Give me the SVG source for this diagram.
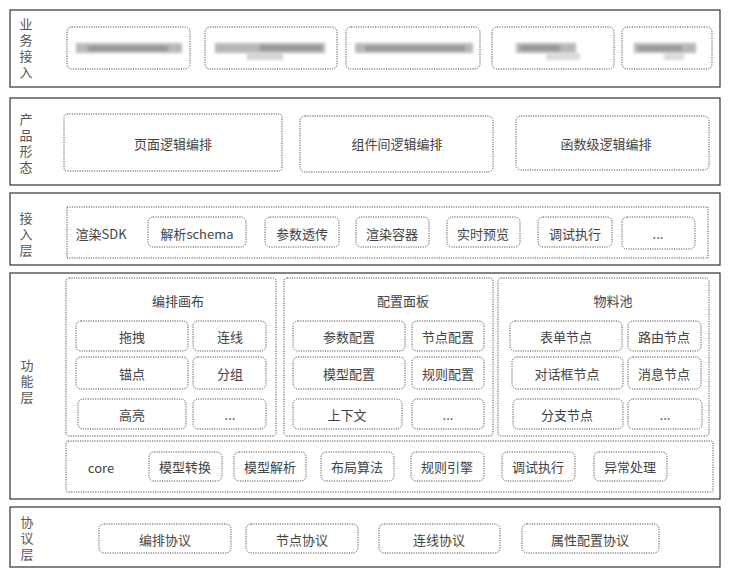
<svg xmlns="http://www.w3.org/2000/svg" width="729" height="577" viewBox="0 0 729 577">
<style>
text{font-family:"Noto Sans CJK SC","Liberation Sans",sans-serif;font-size:13px;fill:#444;text-anchor:middle;dominant-baseline:central}
.lbl{fill:#555;writing-mode:tb;text-anchor:start;letter-spacing:3px}
.layer{fill:#fff;stroke:#333;stroke-width:1.2}
.grp{fill:none;stroke:#555;stroke-width:1;stroke-dasharray:1.2 1.2}
.box{fill:none;stroke:#555;stroke-width:1;stroke-dasharray:1.2 1.2}
.blur{fill:#b8b8b8;filter:url(#bl)}
.blur2{fill:#7a7a7a;filter:url(#bl)}
</style>
<defs>
<filter id="bl" x="-20%" y="-50%" width="140%" height="200%"><feGaussianBlur stdDeviation="1.5"/></filter>
</defs>
<rect width="729" height="577" fill="#fff"/>

<g id="layer-business">
<rect class="layer" x="10" y="10" width="710" height="77"/>
<text class="lbl" x="26" y="18">业务接入</text>
<g id="biz1"><rect class="box" x="67" y="27" width="123" height="42" rx="5"/><rect class="blur" x="76" y="43" width="106" height="10"/><rect class="blur2" x="88" y="46" width="80" height="5" opacity="0.55"/></g>
<g id="biz2"><rect class="box" x="205" y="27" width="132" height="42" rx="5"/><rect class="blur" x="215" y="43" width="110" height="10"/><rect class="blur" x="247" y="53" width="36" height="7" opacity="0.6"/><rect class="blur2" x="260" y="45" width="62" height="6" opacity="0.5"/></g>
<g id="biz3"><rect class="box" x="346" y="27" width="134" height="42" rx="5"/><rect class="blur" x="355" y="43" width="118" height="10"/><rect class="blur2" x="365" y="46" width="100" height="5" opacity="0.5"/></g>
<g id="biz4"><rect class="box" x="492" y="27" width="122" height="42" rx="5"/><rect class="blur" x="516" y="43" width="60" height="10"/><rect class="blur" x="546" y="53" width="34" height="7" opacity="0.5"/><rect class="blur2" x="520" y="45" width="40" height="6" opacity="0.5"/></g>
<g id="biz5"><rect class="box" x="622" y="27" width="90" height="42" rx="5"/><rect class="blur" x="634" y="43" width="62" height="10"/><rect class="blur" x="664" y="53" width="20" height="7" opacity="0.5"/><rect class="blur2" x="638" y="46" width="44" height="5" opacity="0.5"/></g>
</g>

<g id="layer-product">
<rect class="layer" x="10" y="98" width="710" height="87"/>
<text class="lbl" x="26" y="113">产品形态</text>
<g id="p1"><rect class="box" x="64" y="114" width="218" height="57" rx="3"/><text x="173" y="143">页面逻辑编排</text></g>
<g id="p2"><rect class="box" x="300" y="116" width="193" height="56" rx="5"/><text x="397" y="143">组件间逻辑编排</text></g>
<g id="p3"><rect class="box" x="516" y="116" width="193" height="54" rx="5"/><text x="606" y="143">函数级逻辑编排</text></g>
</g>

<g id="layer-access">
<rect class="layer" x="10" y="193" width="710" height="72"/>
<text class="lbl" x="26" y="212">接入层</text>
<rect class="grp" x="67" y="207" width="641" height="51"/>
<text x="101" y="233">渲染SDK</text>
<g id="a1"><rect class="box" x="148" y="217" width="98" height="30" rx="5"/><text x="197" y="233">解析schema</text></g>
<g id="a2"><rect class="box" x="265" y="217" width="74" height="30" rx="5"/><text x="302" y="233">参数透传</text></g>
<g id="a3"><rect class="box" x="356" y="217" width="73" height="30" rx="5"/><text x="392" y="233">渲染容器</text></g>
<g id="a4"><rect class="box" x="447" y="217" width="73" height="30" rx="5"/><text x="483" y="233">实时预览</text></g>
<g id="a5"><rect class="box" x="538" y="217" width="74" height="30" rx="5"/><text x="575" y="233">调试执行</text></g>
<g id="a6"><rect class="box" x="622" y="217" width="73" height="32" rx="5"/><text x="658" y="233">...</text></g>
</g>

<g id="layer-func">
<rect class="layer" x="10" y="273" width="710" height="226"/>
<text class="lbl" x="27" y="359">功能层</text>
<g id="canvas">
<rect class="grp" x="66" y="278" width="210" height="158" rx="3"/>
<text x="178" y="300">编排画布</text>
<rect class="box" x="76" y="321" width="112" height="30" rx="5"/><text x="132" y="336">拖拽</text>
<rect class="box" x="193" y="321" width="73" height="30" rx="5"/><text x="230" y="336">连线</text>
<rect class="box" x="76" y="357" width="112" height="32" rx="5"/><text x="132" y="373">锚点</text>
<rect class="box" x="193" y="357" width="73" height="32" rx="5"/><text x="230" y="373">分组</text>
<rect class="box" x="78" y="399" width="108" height="30" rx="5"/><text x="132" y="414">高亮</text>
<rect class="box" x="193" y="399" width="73" height="30" rx="5"/><text x="230" y="414">...</text>
</g>
<g id="config">
<rect class="grp" x="284" y="278" width="209" height="158" rx="3"/>
<text x="403" y="300">配置面板</text>
<rect class="box" x="293" y="321" width="112" height="30" rx="5"/><text x="349" y="336">参数配置</text>
<rect class="box" x="412" y="321" width="72" height="30" rx="5"/><text x="448" y="336">节点配置</text>
<rect class="box" x="293" y="357" width="112" height="32" rx="5"/><text x="349" y="373">模型配置</text>
<rect class="box" x="412" y="357" width="72" height="32" rx="5"/><text x="448" y="373">规则配置</text>
<rect class="box" x="293" y="399" width="109" height="30" rx="5"/><text x="347" y="414">上下文</text>
<rect class="box" x="412" y="399" width="72" height="30" rx="5"/><text x="448" y="414">...</text>
</g>
<g id="material">
<rect class="grp" x="498" y="278" width="211" height="158" rx="3"/>
<text x="613" y="300">物料池</text>
<rect class="box" x="510" y="321" width="112" height="30" rx="5"/><text x="566" y="336">表单节点</text>
<rect class="box" x="628" y="321" width="73" height="30" rx="5"/><text x="664" y="336">路由节点</text>
<rect class="box" x="512" y="357" width="111" height="32" rx="5"/><text x="567" y="373">对话框节点</text>
<rect class="box" x="628" y="357" width="73" height="32" rx="5"/><text x="664" y="373">消息节点</text>
<rect class="box" x="513" y="399" width="110" height="30" rx="5"/><text x="567" y="414">分支节点</text>
<rect class="box" x="628" y="399" width="74" height="30" rx="5"/><text x="665" y="414">...</text>
</g>
<g id="core">
<rect class="grp" x="66" y="441" width="647" height="51" rx="2"/>
<text x="101" y="467">core</text>
<rect class="box" x="149" y="452" width="73" height="29" rx="5"/><text x="185" y="466">模型转换</text>
<rect class="box" x="234" y="452" width="72" height="29" rx="5"/><text x="270" y="466">模型解析</text>
<rect class="box" x="321" y="452" width="73" height="29" rx="5"/><text x="357" y="466">布局算法</text>
<rect class="box" x="411" y="452" width="73" height="29" rx="5"/><text x="447" y="466">规则引擎</text>
<rect class="box" x="502" y="452" width="73" height="29" rx="5"/><text x="538" y="466">调试执行</text>
<rect class="box" x="594" y="452" width="73" height="29" rx="5"/><text x="630" y="466">异常处理</text>
</g>
</g>

<g id="layer-protocol">
<rect class="layer" x="10" y="507" width="710" height="60"/>
<text class="lbl" x="27" y="516">协议层</text>
<g id="r1"><rect class="box" x="99" y="524" width="132" height="29" rx="5"/><text x="165" y="539">编排协议</text></g>
<g id="r2"><rect class="box" x="246" y="524" width="112" height="29" rx="5"/><text x="302" y="539">节点协议</text></g>
<g id="r3"><rect class="box" x="379" y="524" width="121" height="29" rx="5"/><text x="439" y="539">连线协议</text></g>
<g id="r4"><rect class="box" x="522" y="524" width="137" height="29" rx="5"/><text x="590" y="539">属性配置协议</text></g>
</g>
<g id="connectors"/>
</svg>
